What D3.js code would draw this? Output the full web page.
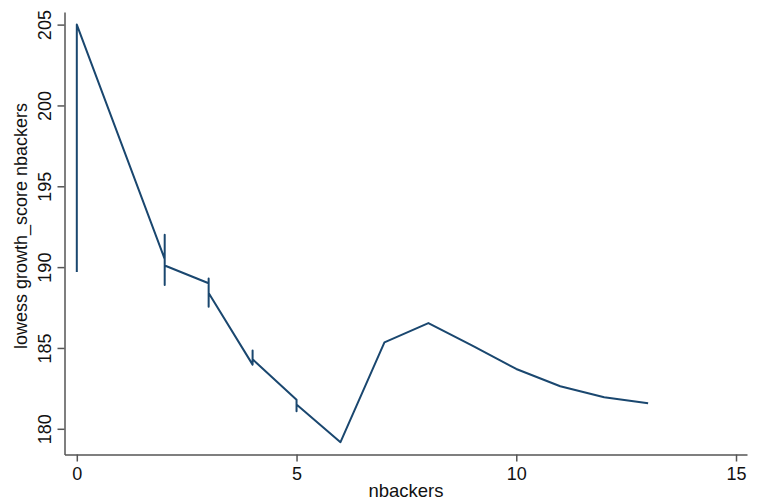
<!DOCTYPE html>
<html>
<head>
<meta charset="utf-8">
<script src="https://cdn.jsdelivr.net/npm/d3@7"></script>
<style>
  body { margin: 0; background: #fff; }
  svg { display: block; font-family: "Liberation Sans", Arial, sans-serif; }
</style>
</head>
<body>
<svg id="grafica"></svg>
<script>
const svg_w = 757;
const svg_h = 502;

// valores (lowess ordenado por nbackers, con empates)
const nbackers = [0, 0, 2, 2, 2, 2, 3, 3, 3, 3, 4, 4, 4, 5, 5, 5, 6, 7, 8, 9, 10, 11, 12, 13];
const lowess = [189.7, 205.0, 190.5, 192.0, 188.9, 190.1, 189.0, 189.3, 187.55, 188.4,
  183.97, 184.85, 184.3, 181.8, 181.09, 181.5, 179.17, 185.35, 186.54, 185.14,
  183.7, 182.63, 181.95, 181.58];

const x_ticks = [0, 5, 10, 15];
const y_ticks = [180, 185, 190, 195, 200, 205];

const data = nbackers.map((d, i) => ({x: d, y: lowess[i]}));

let svg = d3.select("#grafica")
  .attr("width", svg_w)
  .attr("height", svg_h);

// escalas
let x_scale = d3.scaleLinear()
  .domain([-0.28, 15.25])
  .range([64.5, 747]);

let y_scale = d3.scaleLinear()
  .domain([178.41, 205.78])
  .range([454.5, 12]);

const axis_color = "#555";

// eje x
let gx = svg.append("g")
  .attr("transform", "translate(0,454.5)")
  .call(d3.axisBottom(x_scale).tickValues(x_ticks).tickSize(7).tickPadding(6).tickSizeOuter(0));

gx.select(".domain").attr("stroke", axis_color).attr("stroke-width", 1.5);
gx.selectAll(".tick line").attr("stroke", axis_color).attr("stroke-width", 1.5);
gx.selectAll(".tick text")
  .attr("font-size", 18)
  .attr("fill", "#111")
  .attr("font-family", "Liberation Sans, Arial, sans-serif");

// eje y
let gy = svg.append("g")
  .attr("transform", "translate(64.5,0)")
  .call(d3.axisLeft(y_scale).tickValues(y_ticks).tickSize(7).tickSizeOuter(0));

gy.select(".domain").attr("stroke", axis_color).attr("stroke-width", 1.5);
gy.selectAll(".tick line").attr("stroke", axis_color).attr("stroke-width", 1.5);
gy.selectAll(".tick text")
  .attr("font-size", 18)
  .attr("fill", "#111")
  .attr("font-family", "Liberation Sans, Arial, sans-serif")
  .attr("x", null)
  .attr("dy", null)
  .attr("text-anchor", "middle")
  .attr("transform", "translate(-14,0) rotate(-90)");

// títulos
svg.append("text")
  .attr("x", 406)
  .attr("y", 497)
  .attr("text-anchor", "middle")
  .attr("font-size", 18.5)
  .attr("fill", "#111")
  .text("nbackers");

svg.append("text")
  .attr("transform", "translate(27,226) rotate(-90)")
  .attr("text-anchor", "middle")
  .attr("font-size", 18)
  .attr("fill", "#111")
  .text("lowess growth_score nbackers");

// línea lowess
let line = d3.line()
  .x(d => x_scale(d.x))
  .y(d => y_scale(d.y));

svg.append("path")
  .datum(data)
  .attr("d", line)
  .attr("fill", "none")
  .attr("stroke", "#1a476f")
  .attr("stroke-width", 2)
  .attr("stroke-linejoin", "round");
</script>
</body>
</html>
